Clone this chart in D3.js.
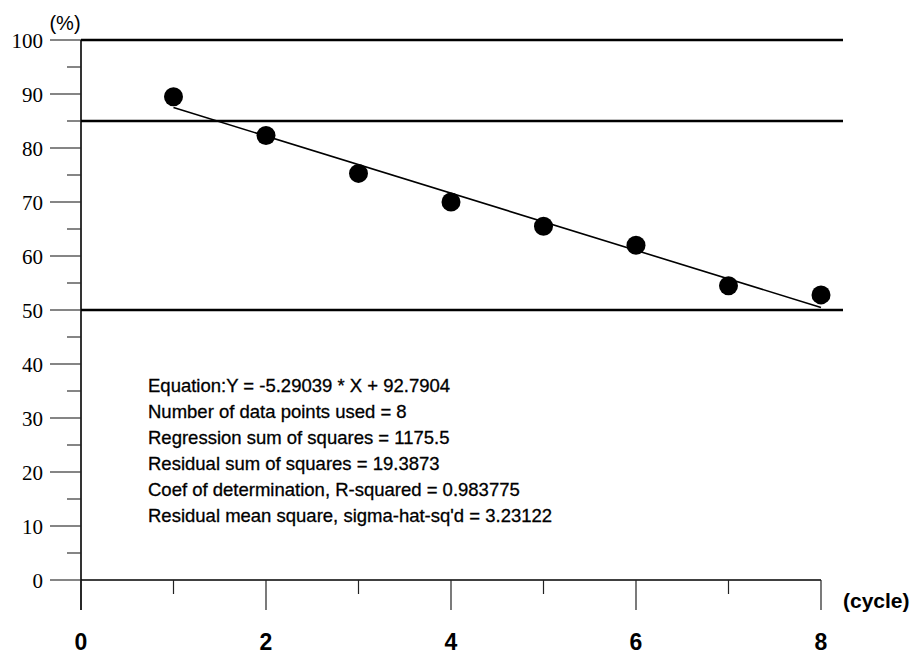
<!DOCTYPE html>
<html>
<head>
<meta charset="utf-8">
<script src="https://cdn.jsdelivr.net/npm/d3@7"></script>
<style>
  html, body { margin: 0; padding: 0; background: #fff; }
  svg { display: block; }
</style>
</head>
<body>
<div id="chart"></div>
<script>
// data
const cycles = [1, 2, 3, 4, 5, 6, 7, 8];
const percent = [89.5, 82.3, 75.3, 70.0, 65.5, 62.0, 54.5, 52.8];
const refLines = [100, 85, 50];
const slope = -5.29039;
const intercept = 92.7904;
const yTicks = [0, 10, 20, 30, 40, 50, 60, 70, 80, 90, 100];
const xTicks = [0, 2, 4, 6, 8];
const statLines = [
  "Equation:Y = -5.29039 * X + 92.7904",
  "Number of data points used = 8",
  "Regression sum of squares = 1175.5",
  "Residual sum of squares = 19.3873",
  "Coef of determination, R-squared = 0.983775",
  "Residual mean square, sigma-hat-sq'd = 3.23122"
];

const width = 921, height = 655;

const svg = d3.select("#chart")
  .append("svg")
  .attr("width", width)
  .attr("height", height)
  .attr("viewBox", `0 0 ${width} ${height}`);

const x = d3.scaleLinear().domain([0, 8]).range([81, 821]);
const y = d3.scaleLinear().domain([0, 100]).range([580, 40]);

// y axis: long ticks at tens, short ones at fives
const yAxis = svg.append("g").attr("transform", `translate(${x(0)},0)`);
yAxis.append("line")
  .attr("y1", y(100)).attr("y2", y(0) + 30)
  .attr("stroke", "#000").attr("stroke-width", 1.6);
yAxis.selectAll(".major")
  .data(yTicks)
  .enter().append("line")
  .attr("x1", -31).attr("x2", 0)
  .attr("y1", d => y(d)).attr("y2", d => y(d))
  .attr("stroke", "#222").attr("stroke-width", 1.1);
yAxis.selectAll(".minor")
  .data(d3.range(5, 100, 10))
  .enter().append("line")
  .attr("x1", -14).attr("x2", 0)
  .attr("y1", d => y(d)).attr("y2", d => y(d))
  .attr("stroke", "#222").attr("stroke-width", 1.1);
yAxis.selectAll("text")
  .data(yTicks)
  .enter().append("text")
  .attr("x", -38)
  .attr("y", d => y(d))
  .attr("dy", "0.36em")
  .attr("text-anchor", "end")
  .style("font-family", "'Liberation Serif', 'Times New Roman', serif")
  .style("font-size", "21px")
  .text(d => d);

svg.append("text")
  .attr("x", 65).attr("y", 30)
  .attr("text-anchor", "middle")
  .style("font-family", "'Liberation Sans', Arial, sans-serif")
  .style("font-size", "20px")
  .text("(%)");

// x axis: long ticks at even cycles, short at odd
const xAxis = svg.append("g").attr("transform", `translate(0,${y(0)})`);
xAxis.append("line")
  .attr("x1", x(0)).attr("x2", x(8))
  .attr("stroke", "#000").attr("stroke-width", 1.6);
xAxis.selectAll(".major")
  .data(xTicks)
  .enter().append("line")
  .attr("x1", d => x(d)).attr("x2", d => x(d))
  .attr("y1", 0).attr("y2", 30)
  .attr("stroke", "#222").attr("stroke-width", 1.2);
xAxis.selectAll(".minor")
  .data([1, 3, 5, 7])
  .enter().append("line")
  .attr("x1", d => x(d)).attr("x2", d => x(d))
  .attr("y1", 0).attr("y2", 14)
  .attr("stroke", "#222").attr("stroke-width", 1.2);
xAxis.selectAll("text")
  .data(xTicks)
  .enter().append("text")
  .attr("x", d => x(d))
  .attr("y", 70)
  .attr("text-anchor", "middle")
  .style("font-family", "'Liberation Sans', Arial, sans-serif")
  .style("font-weight", "bold")
  .style("font-size", "23px")
  .text(d => d);

svg.append("text")
  .attr("x", 843).attr("y", 608)
  .style("font-family", "'Liberation Sans', Arial, sans-serif")
  .style("font-weight", "bold")
  .style("font-size", "21px")
  .text("(cycle)");

// reference lines
svg.selectAll(".ref")
  .data(refLines)
  .enter().append("line")
  .attr("x1", x(0)).attr("x2", 843)
  .attr("y1", d => y(d)).attr("y2", d => y(d))
  .attr("stroke", "#000").attr("stroke-width", 2.6);

// regression line
svg.append("line")
  .attr("x1", x(1)).attr("y1", y(slope * 1 + intercept))
  .attr("x2", x(8)).attr("y2", y(slope * 8 + intercept))
  .attr("stroke", "#000").attr("stroke-width", 1.6);

// data points
svg.selectAll(".pt")
  .data(cycles)
  .enter().append("circle")
  .attr("cx", d => x(d))
  .attr("cy", (d, i) => y(percent[i]))
  .attr("r", 9.5)
  .attr("fill", "#000");

// statistics block
svg.append("g")
  .selectAll("text")
  .data(statLines)
  .enter().append("text")
  .attr("x", 148)
  .attr("y", (d, i) => 392 + i * 26)
  .style("font-family", "'Liberation Sans', Arial, sans-serif")
  .style("font-size", "18.5px")
  .style("stroke", "#000")
  .style("stroke-width", 0.3)
  .text(d => d);
</script>
</body>
</html>
